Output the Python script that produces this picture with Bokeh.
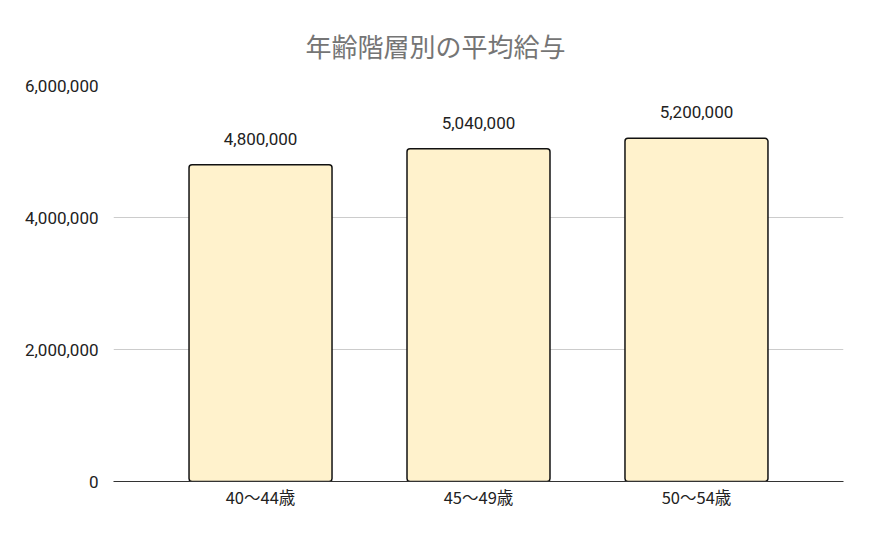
from bokeh.plotting import figure
from bokeh.models import ColumnDataSource, LabelSet, NumeralTickFormatter, FixedTicker, Range1d
from bokeh.core.properties import value
from bokeh.embed import file_html
from bokeh.resources import INLINE

categories = ["40～44歳", "45～49歳", "50～54歳"]
salaries = [4800000, 5040000, 5200000]
salary_labels = ["4,800,000", "5,040,000", "5,200,000"]
y_ticks = [0, 2000000, 4000000, 6000000]
title_text = "年齢階層別の平均給与"

FONT = "Noto Sans CJK JP"

src = ColumnDataSource(dict(cat=categories, val=salaries, lab=salary_labels))

p = figure(x_range=categories, width=862, height=529, output_backend="svg",
           toolbar_location=None, min_border_left=113, min_border_right=19,
           min_border_top=85, min_border_bottom=48)
p.y_range = Range1d(0, 6000000)
p.x_range.range_padding = 0.1745
p.x_range.range_padding_units = "absolute"

p.vbar(x="cat", top="val", width=0.656, source=src, fill_color="#FFF2CC",
       line_color="#111111", line_width=1.5, border_radius=3)

labels = LabelSet(x="cat", y="val", text="lab", source=src, text_align="center",
                  text_baseline="bottom", y_offset=20, text_font=value("Roboto"),
                  text_font_size="17px", text_color="#222222")
p.add_layout(labels)

p.title.text = title_text
p.title.align = "left"
p.title.offset = 192
p.title.standoff = 44
p.title.text_font = FONT
p.title.text_font_size = "26px"
p.title.text_font_style = "normal"
p.title.text_color = "#757575"

p.yaxis.ticker = FixedTicker(ticks=y_ticks)
p.yaxis.formatter = NumeralTickFormatter(format="0,0")
p.yaxis.axis_line_color = None
p.yaxis.major_tick_line_color = None
p.yaxis.minor_tick_line_color = None
p.yaxis.major_label_text_font = "Roboto"
p.yaxis.major_label_text_font_size = "17px"
p.yaxis.major_label_text_color = "#222222"
p.yaxis.major_label_standoff = 9

p.xaxis.axis_line_color = "#333333"
p.xaxis.axis_line_width = 1.2
p.xaxis.major_tick_line_color = None
p.xaxis.minor_tick_line_color = None
p.xaxis.major_label_text_font = FONT
p.xaxis.major_label_text_font_size = "16.5px"
p.xaxis.major_label_text_color = "#222222"
p.xaxis.major_label_standoff = -3

p.xgrid.grid_line_color = None
p.ygrid.grid_line_color = "#CCCCCC"
p.ygrid.grid_line_width = 1
p.outline_line_color = None

open("out.html", "w").write(file_html(p, INLINE))
